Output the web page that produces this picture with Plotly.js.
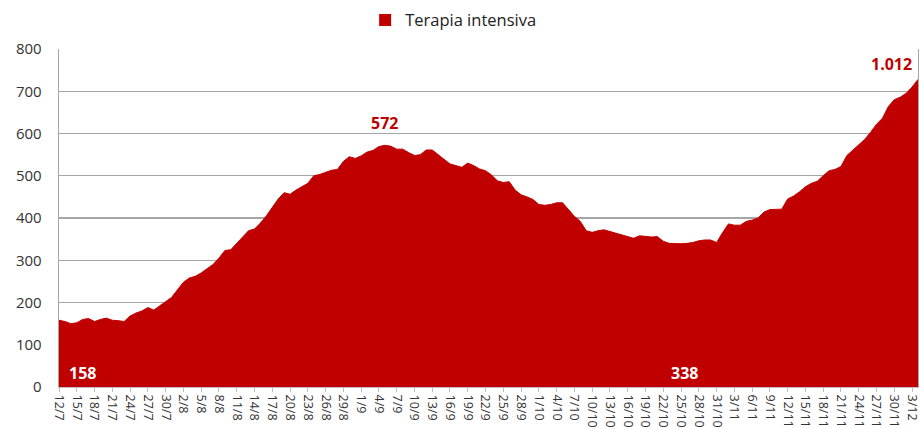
<!DOCTYPE html>
<html>
<head>
<meta charset="utf-8">
<script src="https://cdn.plot.ly/plotly-3.0.1.min.js"></script>
<style>html,body{margin:0;padding:0;background:#fff;}#chart{width:921px;height:429px;}</style>
</head>
<body>
<div id="chart"></div>
<script>
const dates = [
"12/7","13/7","14/7","15/7","16/7","17/7","18/7","19/7","20/7","21/7","22/7","23/7","24/7","25/7","26/7","27/7","28/7","29/7","30/7","31/7",
"1/8","2/8","3/8","4/8","5/8","6/8","7/8","8/8","9/8","10/8","11/8","12/8","13/8","14/8","15/8","16/8","17/8","18/8","19/8","20/8","21/8","22/8","23/8","24/8","25/8","26/8","27/8","28/8","29/8","30/8","31/8",
"1/9","2/9","3/9","4/9","5/9","6/9","7/9","8/9","9/9","10/9","11/9","12/9","13/9","14/9","15/9","16/9","17/9","18/9","19/9","20/9","21/9","22/9","23/9","24/9","25/9","26/9","27/9","28/9","29/9","30/9",
"1/10","2/10","3/10","4/10","5/10","6/10","7/10","8/10","9/10","10/10","11/10","12/10","13/10","14/10","15/10","16/10","17/10","18/10","19/10","20/10","21/10","22/10","23/10","24/10","25/10","26/10","27/10","28/10","29/10","30/10","31/10",
"1/11","2/11","3/11","4/11","5/11","6/11","7/11","8/11","9/11","10/11","11/11","12/11","13/11","14/11","15/11","16/11","17/11","18/11","19/11","20/11","21/11","22/11","23/11","24/11","25/11","26/11","27/11","28/11","29/11","30/11",
"1/12","2/12","3/12","4/12"
];
const terapiaIntensiva = [
158,155,150,152,160,162,155,160,163,158,157,155,168,175,180,188,182,192,200,212,
230,248,258,262,270,279,290,305,323,325,340,357,370,374,388,405,425,445,460,456,
466,474,482,500,503,508,513,515,534,545,541,547,556,560,569,572,570,563,563,555,
548,550,561,561,550,538,528,524,520,530,524,516,512,502,488,484,486,466,455,450,
444,432,430,432,436,436,420,404,392,370,366,370,372,368,363,359,356,352,358,356,
355,356,345,340,339,339,340,342,346,348,348,342,365,386,383,383,392,395,400,414,
420,421,421,445,452,462,474,482,487,500,512,515,522,548,560,572,586,603,622,636,
664,680,686,695,710,728
];
const tickLabels = [
"12/7","15/7","18/7","21/7","24/7","27/7","30/7","2/8","5/8","8/8","11/8","14/8","17/8","20/8","23/8","26/8","29/8",
"1/9","4/9","7/9","10/9","13/9","16/9","19/9","22/9","25/9","28/9","1/10","4/10","7/10","10/10","13/10","16/10","19/10",
"22/10","25/10","28/10","31/10","3/11","6/11","9/11","12/11","15/11","18/11","21/11","24/11","27/11","30/11","3/12"
];
const seriesName = "Terapia intensiva";
const labelTexts = ["158", "572", "338", "1.012"];

const red = "#C00000";
const font = "'Open Sans', 'Liberation Sans', sans-serif";

const traces = [
  {
    type: "scatter", mode: "lines", x: dates, y: terapiaIntensiva,
    fill: "tozeroy", fillcolor: red, line: {color: red, width: 1},
    showlegend: false, hoverinfo: "x+y"
  },
  {
    type: "bar", x: [null], y: [null], name: seriesName,
    marker: {color: red}, showlegend: true, hoverinfo: "skip"
  }
];

const layout = {
  width: 921, height: 429,
  margin: {l: 59, r: 3, t: 49, b: 42},
  paper_bgcolor: "#fff", plot_bgcolor: "#fff",
  font: {family: font, size: 14, color: "#333"},
  showlegend: true,
  legend: {
    orientation: "h", xref: "container", yref: "container",
    x: 0.492, xanchor: "center", y: 0.953, yanchor: "middle",
    font: {family: font, size: 16.5, color: "#222"},
    itemwidth: 30
  },
  xaxis: {
    type: "category", range: [0, dates.length - 1], autorange: false,
    tickmode: "array", tickvals: tickLabels, ticktext: tickLabels,
    tickangle: 90, ticks: "outside", ticklen: 4, tickcolor: "#BFBFBF",
    tickfont: {family: font, size: 12.5, color: "#333"},
    ticklabelstandoff: 0,
    showgrid: false, showline: true, linecolor: "#BFBFBF", linewidth: 1,
    mirror: false, automargin: false, zeroline: false, fixedrange: true
  },
  yaxis: {
    range: [0, 800], autorange: false, dtick: 100, tick0: 0,
    showgrid: true, gridcolor: "#A6A6A6", gridwidth: 1.3,
    showline: true, linecolor: "#A6A6A6", linewidth: 1.3, mirror: true,
    ticks: "", ticklabelstandoff: 13,
    tickfont: {family: font, size: 15, color: "#333"},
    zeroline: false, automargin: false, fixedrange: true
  },
  annotations: [
    {x: 3.9, y: 34, xref: "x", yref: "y", text: "<b>" + labelTexts[0] + "</b>", showarrow: false,
     font: {family: font, size: 16, color: "#fff"}},
    {x: 54.9, y: 626, xref: "x", yref: "y", text: "<b>" + labelTexts[1] + "</b>", showarrow: false,
     font: {family: font, size: 16, color: red}},
    {x: 105.6, y: 32, xref: "x", yref: "y", text: "<b>" + labelTexts[2] + "</b>", showarrow: false,
     font: {family: font, size: 16, color: "#fff"}},
    {x: 144.3, y: 765, xref: "x", yref: "y", xanchor: "right", text: "<b>" + labelTexts[3] + "</b>", showarrow: false,
     font: {family: font, size: 16, color: red}}
  ]
};

Plotly.newPlot("chart", traces, layout, {displayModeBar: false, staticPlot: true});
</script>
</body>
</html>
